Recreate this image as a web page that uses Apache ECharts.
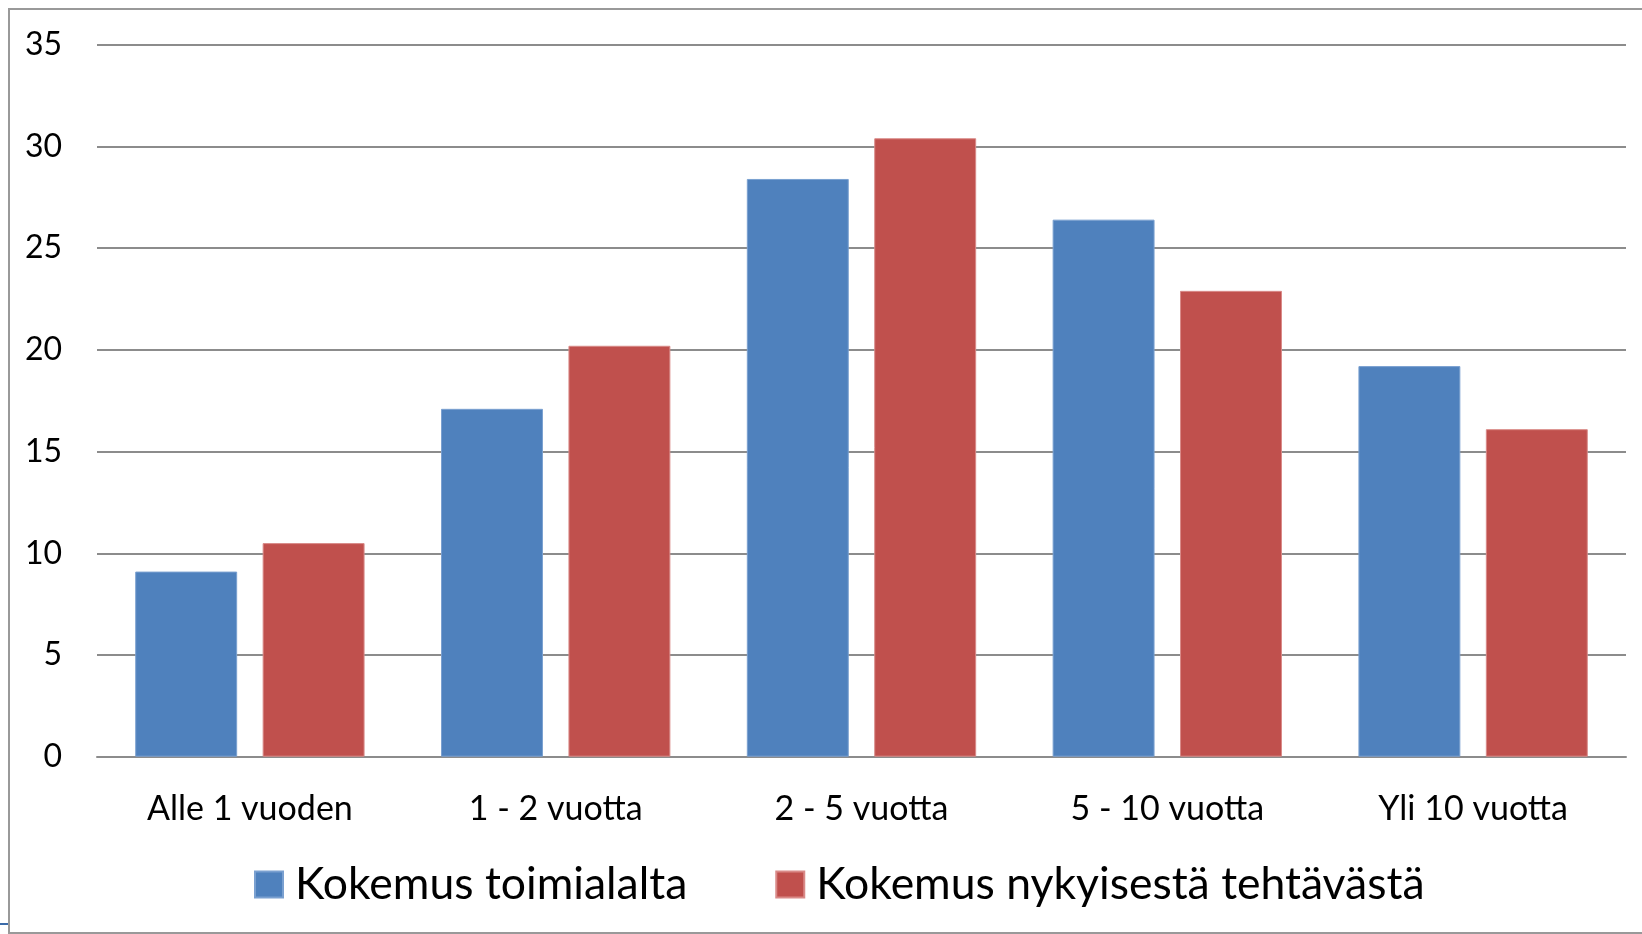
<!DOCTYPE html>
<html>
<head>
<meta charset="utf-8">
<script src="https://cdn.jsdelivr.net/npm/echarts@6/dist/echarts.min.js"></script>
<style>
  html, body { margin: 0; padding: 0; background: #fff; }
  #chart { width: 1642px; height: 934px; }
</style>
</head>
<body>
<div id="chart"></div>
<script>
var categories = ['Alle 1 vuoden', '1 - 2 vuotta', '2 - 5 vuotta', '5 - 10 vuotta', 'Yli 10 vuotta'];
var seriesNames = ['Kokemus toimialalta', 'Kokemus nykyisestä tehtävästä'];
var toimialalta = [9.1, 17.1, 28.4, 26.4, 19.2];
var tehtavasta = [10.5, 20.2, 30.4, 22.9, 16.1];
var yTicks = [0, 5, 10, 15, 20, 25, 30, 35];

var font = 'Lato, "Open Sans", sans-serif';

var option = {
  animation: false,
  backgroundColor: '#fff',
  color: ['#4F81BD', '#C0504D'],
  grid: {
    left: 97,
    right: 16,
    top: 44.7,
    bottom: 177.3,
    containLabel: false
  },
  legend: {
    data: seriesNames,
    left: 254,
    top: 862,
    padding: 0,
    itemWidth: 28,
    itemHeight: 26,
    itemGap: 88,
    icon: 'rect',
    textStyle: { fontFamily: font, fontSize: 44.5, color: '#000', padding: [0, 0, 0, 7] }
  },
  xAxis: {
    type: 'category',
    data: categories,
    axisLine: { show: true, lineStyle: { color: '#8c8c8c', width: 2 } },
    axisTick: { show: false },
    axisLabel: { margin: 35, fontFamily: font, fontSize: 34, color: '#000' }
  },
  yAxis: {
    type: 'value',
    min: yTicks[0],
    max: yTicks[yTicks.length - 1],
    interval: 5,
    axisLine: { show: false },
    axisTick: { show: false },
    splitLine: { lineStyle: { color: '#8c8c8c', width: 2 } },
    axisLabel: { margin: 35, fontFamily: font, fontSize: 32, color: '#000' }
  },
  series: [
    {
      name: seriesNames[0],
      type: 'bar',
      data: toimialalta,
      barGap: '25%',
      barCategoryGap: '25%',
      itemStyle: { borderColor: '#7aa0d0', borderWidth: 1 }
    },
    {
      name: seriesNames[1],
      type: 'bar',
      data: tehtavasta,
      barGap: '25%',
      barCategoryGap: '25%',
      itemStyle: { borderColor: '#d98a88', borderWidth: 1 }
    }
  ],
  graphic: [
    {
      type: 'rect',
      shape: { x: 9, y: 9, width: 1700, height: 924 },
      style: { fill: 'none', stroke: '#999', lineWidth: 2 },
      silent: true
    },
    {
      type: 'line',
      shape: { x1: 0, y1: 924, x2: 8, y2: 924 },
      style: { stroke: '#3a6aa8', lineWidth: 2 },
      silent: true
    }
  ]
};

var chart = echarts.init(document.getElementById('chart'));
chart.setOption(option);
</script>
</body>
</html>
